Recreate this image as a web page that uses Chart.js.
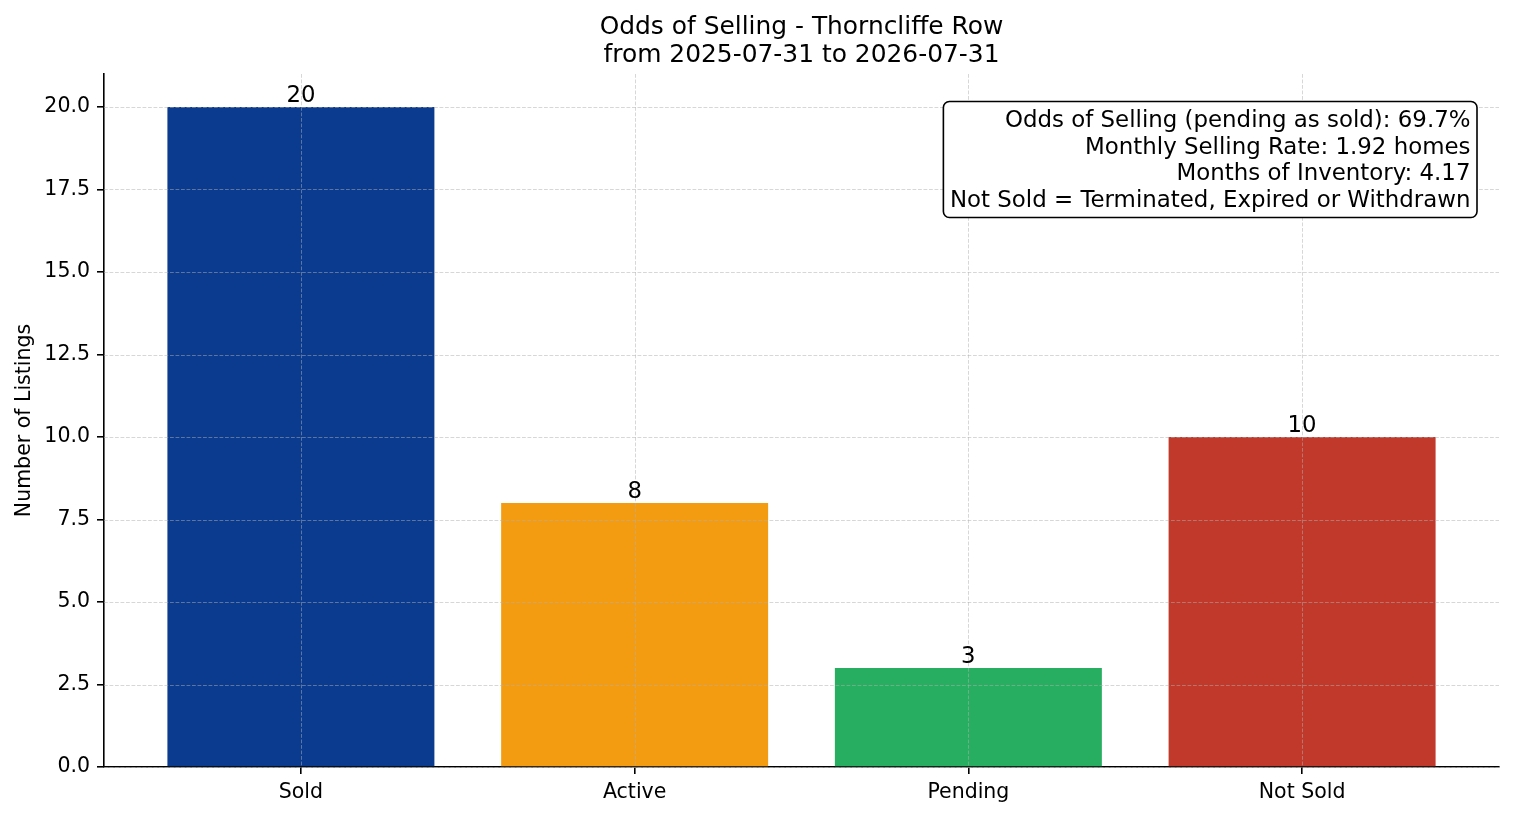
<!DOCTYPE html>
<html>
<head>
<meta charset="utf-8">
<script src="https://cdn.jsdelivr.net/npm/chart.js@4"></script>
<style>
html,body{margin:0;padding:0;background:#fff;}
#wrap{width:1514px;height:816px;}
</style>
</head>
<body>
<div id="wrap"><canvas id="c" width="1514" height="816"></canvas></div>
<script>
const categories = ['Sold', 'Active', 'Pending', 'Not Sold'];
const counts = [20, 8, 3, 10];
const barColors = ['#0b3b8f', '#f39c12', '#27ae60', '#c0392b'];
const yTicks = [0, 2.5, 5, 7.5, 10, 12.5, 15, 17.5, 20];
const titleLines = ['Odds of Selling - Thorncliffe Row', 'from 2025-07-31 to 2026-07-31'];
const infoLines = [
  'Odds of Selling (pending as sold): 69.7%',
  'Monthly Selling Rate: 1.92 homes',
  'Months of Inventory: 4.17',
  'Not Sold = Terminated, Expired or Withdrawn'
];

const FONT = "'DejaVu Sans', sans-serif";

const gridOnTop = {
  id: 'gridOnTop',
  afterDatasetsDraw(chart) {
    const {ctx, chartArea: a, scales} = chart;
    ctx.save();
    ctx.strokeStyle = 'rgba(176,176,176,0.5)';
    ctx.lineWidth = 1;
    ctx.setLineDash([3.8, 1.7]);
    scales.x.ticks.forEach(t => {
      const x = Math.round(scales.x.getPixelForValue(t.value)) + 0.5;
      ctx.beginPath(); ctx.moveTo(x, a.top); ctx.lineTo(x, a.bottom); ctx.stroke();
    });
    scales.y.ticks.forEach(t => {
      const y = Math.round(scales.y.getPixelForValue(t.value)) + 0.5;
      ctx.beginPath(); ctx.moveTo(a.left, y); ctx.lineTo(a.right, y); ctx.stroke();
    });
    ctx.restore();
  }
};

const barLabels = {
  id: 'barLabels',
  afterDatasetsDraw(chart) {
    const {ctx} = chart;
    const meta = chart.getDatasetMeta(0);
    ctx.save();
    ctx.fillStyle = '#000';
    ctx.font = '22.8px ' + FONT;
    ctx.textAlign = 'center';
    ctx.textBaseline = 'alphabetic';
    meta.data.forEach((bar, i) => {
      ctx.fillText(String(counts[i]), bar.x, bar.y - 5.5);
    });
    ctx.restore();
  }
};

const titleAndBox = {
  id: 'titleAndBox',
  afterDraw(chart) {
    const {ctx, chartArea: a} = chart;
    ctx.save();
    // title
    ctx.fillStyle = '#000';
    ctx.font = '24.9px ' + FONT;
    ctx.textAlign = 'center';
    ctx.textBaseline = 'alphabetic';
    const cx = (a.left + a.right) / 2;
    titleLines.forEach((s, i) => ctx.fillText(s, cx, 33.5 + i * 28.5));
    // info box
    ctx.font = '22.9px ' + FONT;
    const lh = 26.6;
    let w = 0;
    infoLines.forEach(s => { w = Math.max(w, ctx.measureText(s).width); });
    const right = a.right - 22;
    const top = a.top + 27.5;
    const padX = 6.5, boxH = 116;
    const left = right - w - 2 * padX;
    ctx.beginPath();
    ctx.roundRect(left, top, right - left, boxH, 6);
    ctx.fillStyle = '#fff';
    ctx.fill();
    ctx.lineWidth = 1.6;
    ctx.strokeStyle = '#000';
    ctx.stroke();
    ctx.fillStyle = '#000';
    ctx.textAlign = 'right';
    ctx.textBaseline = 'middle';
    infoLines.forEach((s, i) => ctx.fillText(s, right - padX, top + 19.5 + i * lh));
    ctx.restore();
  }
};

new Chart(document.getElementById('c'), {
  type: 'bar',
  data: {
    datasets: [{
      data: categories.map((c, i) => ({x: i, y: counts[i]})),
      backgroundColor: barColors,
      borderWidth: 0,
      barPercentage: 1.0,
      categoryPercentage: 0.8
    }]
  },
  options: {
    responsive: false,
    animation: false,
    devicePixelRatio: 1,
    layout: {padding: {top: 74, right: 15, left: 0, bottom: 0}},
    plugins: {legend: {display: false}, tooltip: {enabled: false}, title: {display: false}},
    scales: {
      x: {
        type: 'linear',
        offset: false,
        min: -0.59,
        max: 3.59,
        afterBuildTicks(scale) { scale.ticks = categories.map((c, i) => ({value: i})); },
        afterFit(scale) { scale.height = 49; },
        ticks: {
          callback: (v) => categories[v] ?? '',
          color: '#000',
          font: {family: FONT, size: 20.5},
          padding: 6,
          maxRotation: 0,
          autoSkip: false
        },
        grid: {offset: false, drawOnChartArea: false, tickLength: 7, color: '#000', lineWidth: 1.6},
        border: {display: true, color: '#000', width: 1.6}
      },
      y: {
        type: 'linear',
        min: 0,
        max: 21,
        afterBuildTicks(scale) { scale.ticks = yTicks.map(v => ({value: v})); },
        afterFit(scale) { scale.width = 104; },
        ticks: {
          callback: (v) => Number(v).toFixed(1),
          color: '#000',
          font: {family: FONT, size: 20.5},
          padding: 7
        },
        grid: {drawOnChartArea: false, tickLength: 7, color: '#000', lineWidth: 1.6},
        border: {display: true, color: '#000', width: 1.6},
        title: {
          display: true,
          text: 'Number of Listings',
          color: '#000',
          font: {family: FONT, size: 20.5},
          padding: {top: 12, bottom: 0}
        }
      }
    }
  },
  plugins: [gridOnTop, barLabels, titleAndBox]
});
</script>
</body>
</html>
